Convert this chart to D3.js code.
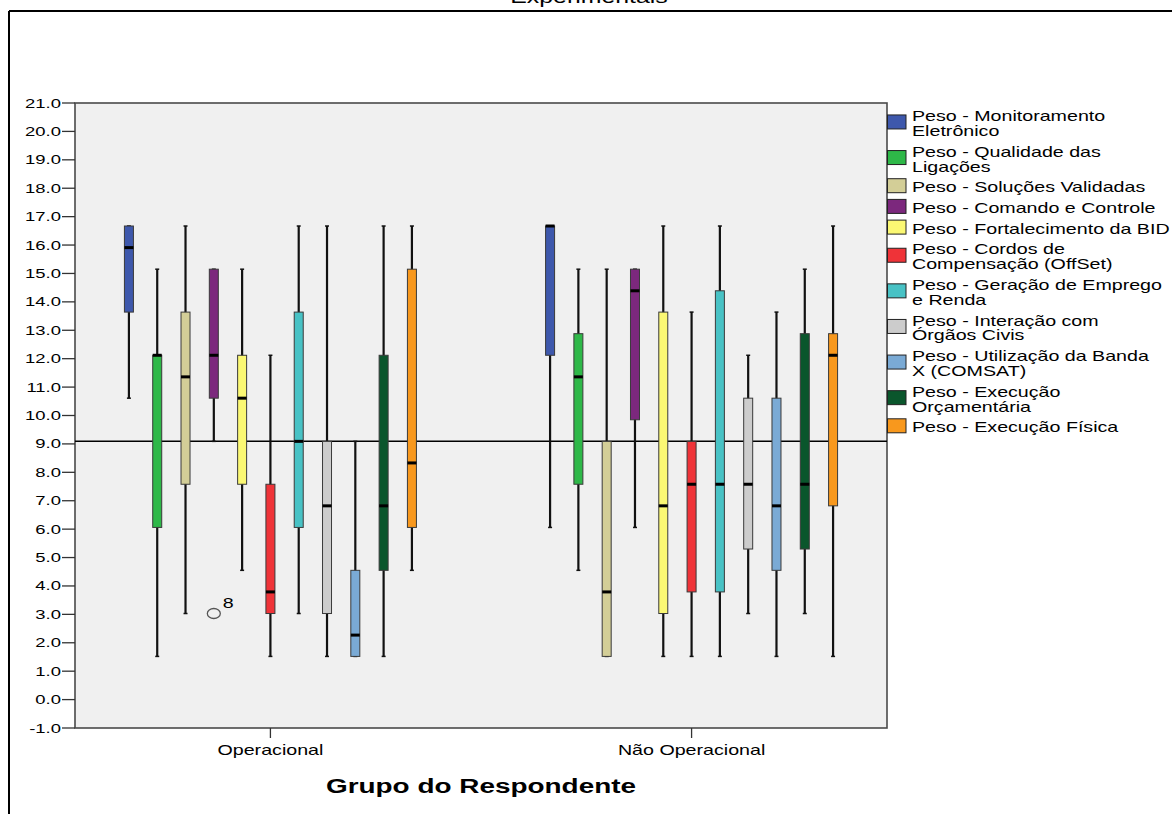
<!DOCTYPE html>
<meta charset="utf-8">
<style>
  body { margin: 0; background: #fff; }
  text { font-family: "Liberation Sans", Arial, sans-serif; fill: #000; }
</style>
<body>
<script src="https://cdn.jsdelivr.net/npm/d3@7"></script>
<script>
  // groups on the x axis and the eleven weight series
  var groups = ["Operacional", "Não Operacional"];
  var series = [
    "Peso - Monitoramento\nEletrônico",
    "Peso - Qualidade das\nLigações",
    "Peso - Soluções Validadas",
    "Peso - Comando e Controle",
    "Peso - Fortalecimento da BID",
    "Peso - Cordos de\nCompensação (OffSet)",
    "Peso - Geração de Emprego\ne Renda",
    "Peso - Interação com\nÓrgãos Civis",
    "Peso - Utilização da Banda\nX (COMSAT)",
    "Peso - Execução\nOrçamentária",
    "Peso - Execução Física"
  ];
  var colors = ["#3e58ac", "#2eb848", "#d3ce97", "#7c287d", "#fbf873", "#ef3338",
    "#48c2c5", "#cccccc", "#7aaad5", "#0a562c", "#f8981d"];

  // box statistics, one row per group, one value per series
  var whiskerLow = [
    [10.61, 1.52, 3.03, 9.09, 4.55, 1.52, 3.03, 1.52, 1.52, 1.52, 4.55],
    [6.06, 4.55, 1.52, 6.06, 1.52, 1.52, 1.52, 3.03, 1.52, 3.03, 1.52]
  ];
  var q1 = [
    [13.64, 6.06, 7.58, 10.61, 7.58, 3.03, 6.06, 3.03, 1.52, 4.55, 6.06],
    [12.12, 7.58, 1.52, 9.85, 3.03, 3.79, 3.79, 5.30, 4.55, 5.30, 6.82]
  ];
  var median = [
    [15.91, 12.12, 11.36, 12.12, 10.61, 3.79, 9.09, 6.82, 2.27, 6.82, 8.33],
    [16.67, 11.36, 3.79, 14.39, 6.82, 7.58, 7.58, 7.58, 6.82, 7.58, 12.12]
  ];
  var q3 = [
    [16.67, 12.12, 13.64, 15.15, 12.12, 7.58, 13.64, 9.09, 4.55, 12.12, 15.15],
    [16.67, 12.88, 9.09, 15.15, 13.64, 9.09, 14.39, 10.61, 10.61, 12.88, 12.88]
  ];
  var whiskerHigh = [
    [16.67, 15.15, 16.67, 15.15, 15.15, 12.12, 16.67, 16.67, 9.09, 16.67, 16.67],
    [16.67, 15.15, 15.15, 15.15, 16.67, 13.64, 16.67, 12.12, 13.64, 15.15, 16.67]
  ];
  // outliers: [group index, series index, value, case label]
  var outliers = [[0, 3, 3.03, "8"]];
  var refLine = 9.09;
  var yTicks = d3.range(-1, 22, 1);

  var W = 1172, H = 814;
  var plot = { left: 75, right: 887, top: 103, bottom: 728 };
  var sx = 1.31; // the picture is stretched horizontally

  var svg = d3.select("body").append("svg")
    .attr("width", W).attr("height", H);

  function label(x, y, str, size, anchor, weight, scale) {
    return svg.append("text")
      .attr("transform", "translate(" + x + "," + y + ") scale(" + (scale || sx) + ",1)")
      .attr("text-anchor", anchor || "start")
      .style("font-size", size + "px")
      .style("font-weight", weight || "normal")
      .text(str);
  }

  // outer frame
  svg.append("line").attr("x1", 9).attr("x2", W).attr("y1", 11).attr("y2", 11)
    .attr("stroke", "#000").attr("stroke-width", 2);
  svg.append("line").attr("x1", 9).attr("x2", 9).attr("y1", 11).attr("y2", H)
    .attr("stroke", "#000").attr("stroke-width", 2);

  // title, only its lower part is in view in the original
  label(589, 3, "Experimentais", 19, "middle");

  var x = d3.scalePoint().domain(groups).range([plot.left, plot.right]).padding(0.464);
  var inner = d3.scaleBand().domain(d3.range(series.length)).range([-155.65, 155.65]);
  var y = d3.scaleLinear().domain([-1, 21]).range([plot.bottom, plot.top]);

  svg.append("rect")
    .attr("x", plot.left).attr("y", plot.top)
    .attr("width", plot.right - plot.left).attr("height", plot.bottom - plot.top)
    .attr("fill", "#f0f0f0").attr("stroke", "#4a4a4a").attr("stroke-width", 1.6);

  // y axis
  var yAxis = svg.append("g");
  yTicks.forEach(function (t) {
    yAxis.append("line").attr("x1", 62).attr("x2", plot.left)
      .attr("y1", y(t)).attr("y2", y(t)).attr("stroke", "#333").attr("stroke-width", 1.3);
    label(61, y(t) + 4.5, d3.format(".1f")(t).replace("\u2212", "-"), 13, "end", "normal", 1.42);
  });

  // x axis
  groups.forEach(function (g) {
    svg.append("line").attr("x1", x(g)).attr("x2", x(g))
      .attr("y1", plot.bottom).attr("y2", plot.bottom + 10)
      .attr("stroke", "#333").attr("stroke-width", 1.3);
    label(x(g), 755, g, 15, "middle");
  });
  label((plot.left + plot.right) / 2, 793, "Grupo do Respondente", 21, "middle", "bold", 1.33);

  // reference line
  svg.append("line").attr("x1", plot.left).attr("x2", plot.right)
    .attr("y1", y(refLine)).attr("y2", y(refLine))
    .attr("stroke", "#000").attr("stroke-width", 1.5);

  // boxes
  var bw = 9, cap = 4;
  groups.forEach(function (g, gi) {
    series.forEach(function (s, si) {
      var cx = x(g) + inner(si) + inner.bandwidth() / 2;
      var b = svg.append("g");
      b.append("line").attr("x1", cx).attr("x2", cx)
        .attr("y1", y(whiskerLow[gi][si])).attr("y2", y(whiskerHigh[gi][si]))
        .attr("stroke", "#111").attr("stroke-width", 2.2);
      [whiskerLow[gi][si], whiskerHigh[gi][si]].forEach(function (v) {
        b.append("line").attr("x1", cx - cap / 2).attr("x2", cx + cap / 2)
          .attr("y1", y(v)).attr("y2", y(v)).attr("stroke", "#111").attr("stroke-width", 1.5);
      });
      b.append("rect").attr("x", cx - bw / 2).attr("width", bw)
        .attr("y", y(q3[gi][si])).attr("height", y(q1[gi][si]) - y(q3[gi][si]))
        .attr("fill", colors[si]).attr("stroke", "#3a3a3a").attr("stroke-width", 1);
      b.append("line").attr("x1", cx - bw / 2).attr("x2", cx + bw / 2)
        .attr("y1", y(median[gi][si])).attr("y2", y(median[gi][si]))
        .attr("stroke", "#000").attr("stroke-width", 3);
    });
  });

  outliers.forEach(function (o) {
    var cx = x(groups[o[0]]) + inner(o[1]) + inner.bandwidth() / 2;
    svg.append("ellipse").attr("cx", cx).attr("cy", y(o[2]))
      .attr("rx", 6.5).attr("ry", 5)
      .attr("fill", "none").attr("stroke", "#555").attr("stroke-width", 1.3);
    label(cx + 9, y(o[2]) - 6, o[3], 15, "start");
  });

  // legend
  var ly = 121;
  series.forEach(function (s, si) {
    var lines = s.split("\n");
    var mid = ly - 5.5 + (lines.length - 1) * 7.45 - 1;
    svg.append("rect").attr("x", 887.5).attr("y", mid - 7)
      .attr("width", 18.5).attr("height", 14)
      .attr("fill", colors[si]).attr("stroke", "#222").attr("stroke-width", 1);
    lines.forEach(function (t, li) {
      label(912, ly + li * 14.9, t, 15, "start");
    });
    ly += 20.7 + (lines.length - 1) * 14.9;
  });
</script>
</body>
